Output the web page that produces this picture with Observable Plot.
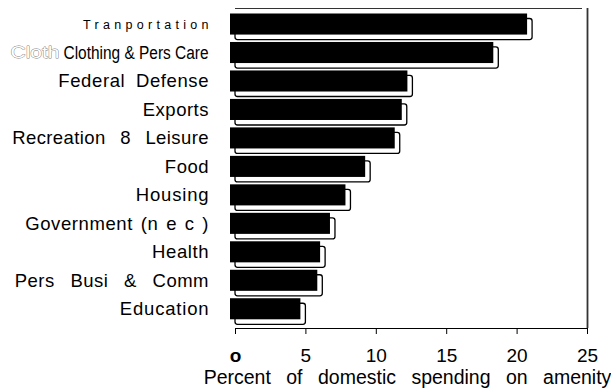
<!DOCTYPE html>
<html>
<head>
<meta charset="utf-8">
<script src="https://cdn.jsdelivr.net/npm/d3@7"></script>
<script src="https://cdn.jsdelivr.net/npm/@observablehq/plot@0.6"></script>
<style>
  html, body { margin: 0; padding: 0; background: #fff; }
  #chart svg { display: block; }
</style>
</head>
<body>
<div id="chart"></div>
<script>
// ---- data ----
const categories = [
  "Tranportation",
  "Clothing & Pers Care",
  "Federal Defense",
  "Exports",
  "Recreation 8 Leisure",
  "Food",
  "Housing",
  "Government (n e c )",
  "Health",
  "Pers Busi & Comm",
  "Education"
];
const values = [21.1, 18.7, 12.6, 12.2, 11.7, 9.6, 8.2, 7.1, 6.4, 6.2, 5.0];
const tickValues = [0, 5, 10, 15, 20, 25];
const tickLabels = ["o", "5", "10", "15", "20", "25"];
const xLabel = "Percent of domestic spending on amenity";
const strayLabel = "Cloth";

const data = categories.map((c, i) => ({category: c, value: values[i]}));

// ---- label styling (presentation only) ----
const baseFont = "'Liberation Sans', Arial, Helvetica, sans-serif";
const labelStyle = {
  "Tranportation": {"font-size": "12.5px", "letter-spacing": "4.3px", dx: 4.3},
  "Clothing & Pers Care": {"font-size": "18px", textLength: 145},
  "Federal Defense": {"letter-spacing": "0.6px", "word-spacing": "5px", dx: 0.6},
  "Exports": {"letter-spacing": "0.5px", dx: 0.5},
  "Recreation 8 Leisure": {"word-spacing": "9px", "letter-spacing": "0.4px", dx: 0.4},
  "Food": {"letter-spacing": "0.5px", dx: 0.5},
  "Housing": {"letter-spacing": "0.8px", dx: 0.8},
  "Government (n e c )": {"word-spacing": "2px", "letter-spacing": "0.6px", dx: 0.6},
  "Health": {"letter-spacing": "0.6px", dx: 0.6},
  "Pers Busi & Comm": {"word-spacing": "10px", "letter-spacing": "0.5px", dx: 0.5},
  "Education": {"letter-spacing": "0.8px", dx: 0.8},
  "Cloth": {textLength: 49}
};

const W = 611, H = 388;

const plot = Plot.plot({
  width: W,
  height: H,
  marginLeft: 235,
  marginRight: 24,
  marginTop: 8,
  marginBottom: 60,
  style: {fontFamily: baseFont, fontSize: "19px", color: "#000", background: "#fff"},
  x: {
    domain: [0, 25],
    ticks: tickValues,
    tickFormat: (d) => tickLabels[tickValues.indexOf(d)],
    tickSize: 6,
    tickPadding: 14,
    line: true,
    label: null
  },
  y: {
    domain: categories,
    range: [14.8, 328],
    paddingInner: 0.26,
    paddingOuter: 0.13,
    round: false,
    axis: null
  },
  marks: [
    // right border
    Plot.ruleX([25], {stroke: "#333", strokeWidth: 1.8}),
    // 3D lip (back face)
    Plot.barX(data, {x: "value", y: "category", fill: "#fff", stroke: "#000", strokeWidth: 1.3, rx: 2.5}),
    // front face
    Plot.barX(data, {x: "value", y: "category", fill: "#000", dx: -5, dy: -5}),
    // category labels
    Plot.text(data, {x: 0, y: "category", text: "category", textAnchor: "end", dx: -27, dy: -5, fontSize: 18.5, fill: "#000"}),
    // stray ghost label
    Plot.text([strayLabel], {x: 0, y: () => categories[1], text: (d) => d, textAnchor: "start", dx: -225, dy: -5, fontSize: 17, fill: "#fff", stroke: "#808080", strokeWidth: 0.8}),
    // x axis title
    Plot.text([xLabel], {frameAnchor: "bottom", lineAnchor: "middle", text: (d) => d, dx: -4, dy: 49, fontSize: 19.5, fill: "#000"})
  ]
});

document.getElementById("chart").appendChild(plot);

const svg = d3.select(plot);
svg.selectAll("text").each(function () {
  const t = this.textContent;
  const s = labelStyle[t];
  const sel = d3.select(this);
  if (s) {
    for (const k in s) {
      if (k === "dx") sel.attr("dx", s[k]);
      else if (k === "textLength") sel.attr("textLength", s[k]).attr("lengthAdjust", "spacingAndGlyphs");
      else sel.style(k, s[k]);
    }
  }
  if (t === tickLabels[0]) sel.style("font-weight", "bold");
  if (t === xLabel) sel.style("word-spacing", "10px");
});

// top border line using the x scale
const xs = plot.scale("x");
svg.append("line")
  .attr("x1", xs.apply(0))
  .attr("x2", xs.apply(25) - 5)
  .attr("y1", 8.5)
  .attr("y2", 8.5)
  .attr("stroke", "#333")
  .attr("stroke-width", 1.2);
</script>
</body>
</html>
